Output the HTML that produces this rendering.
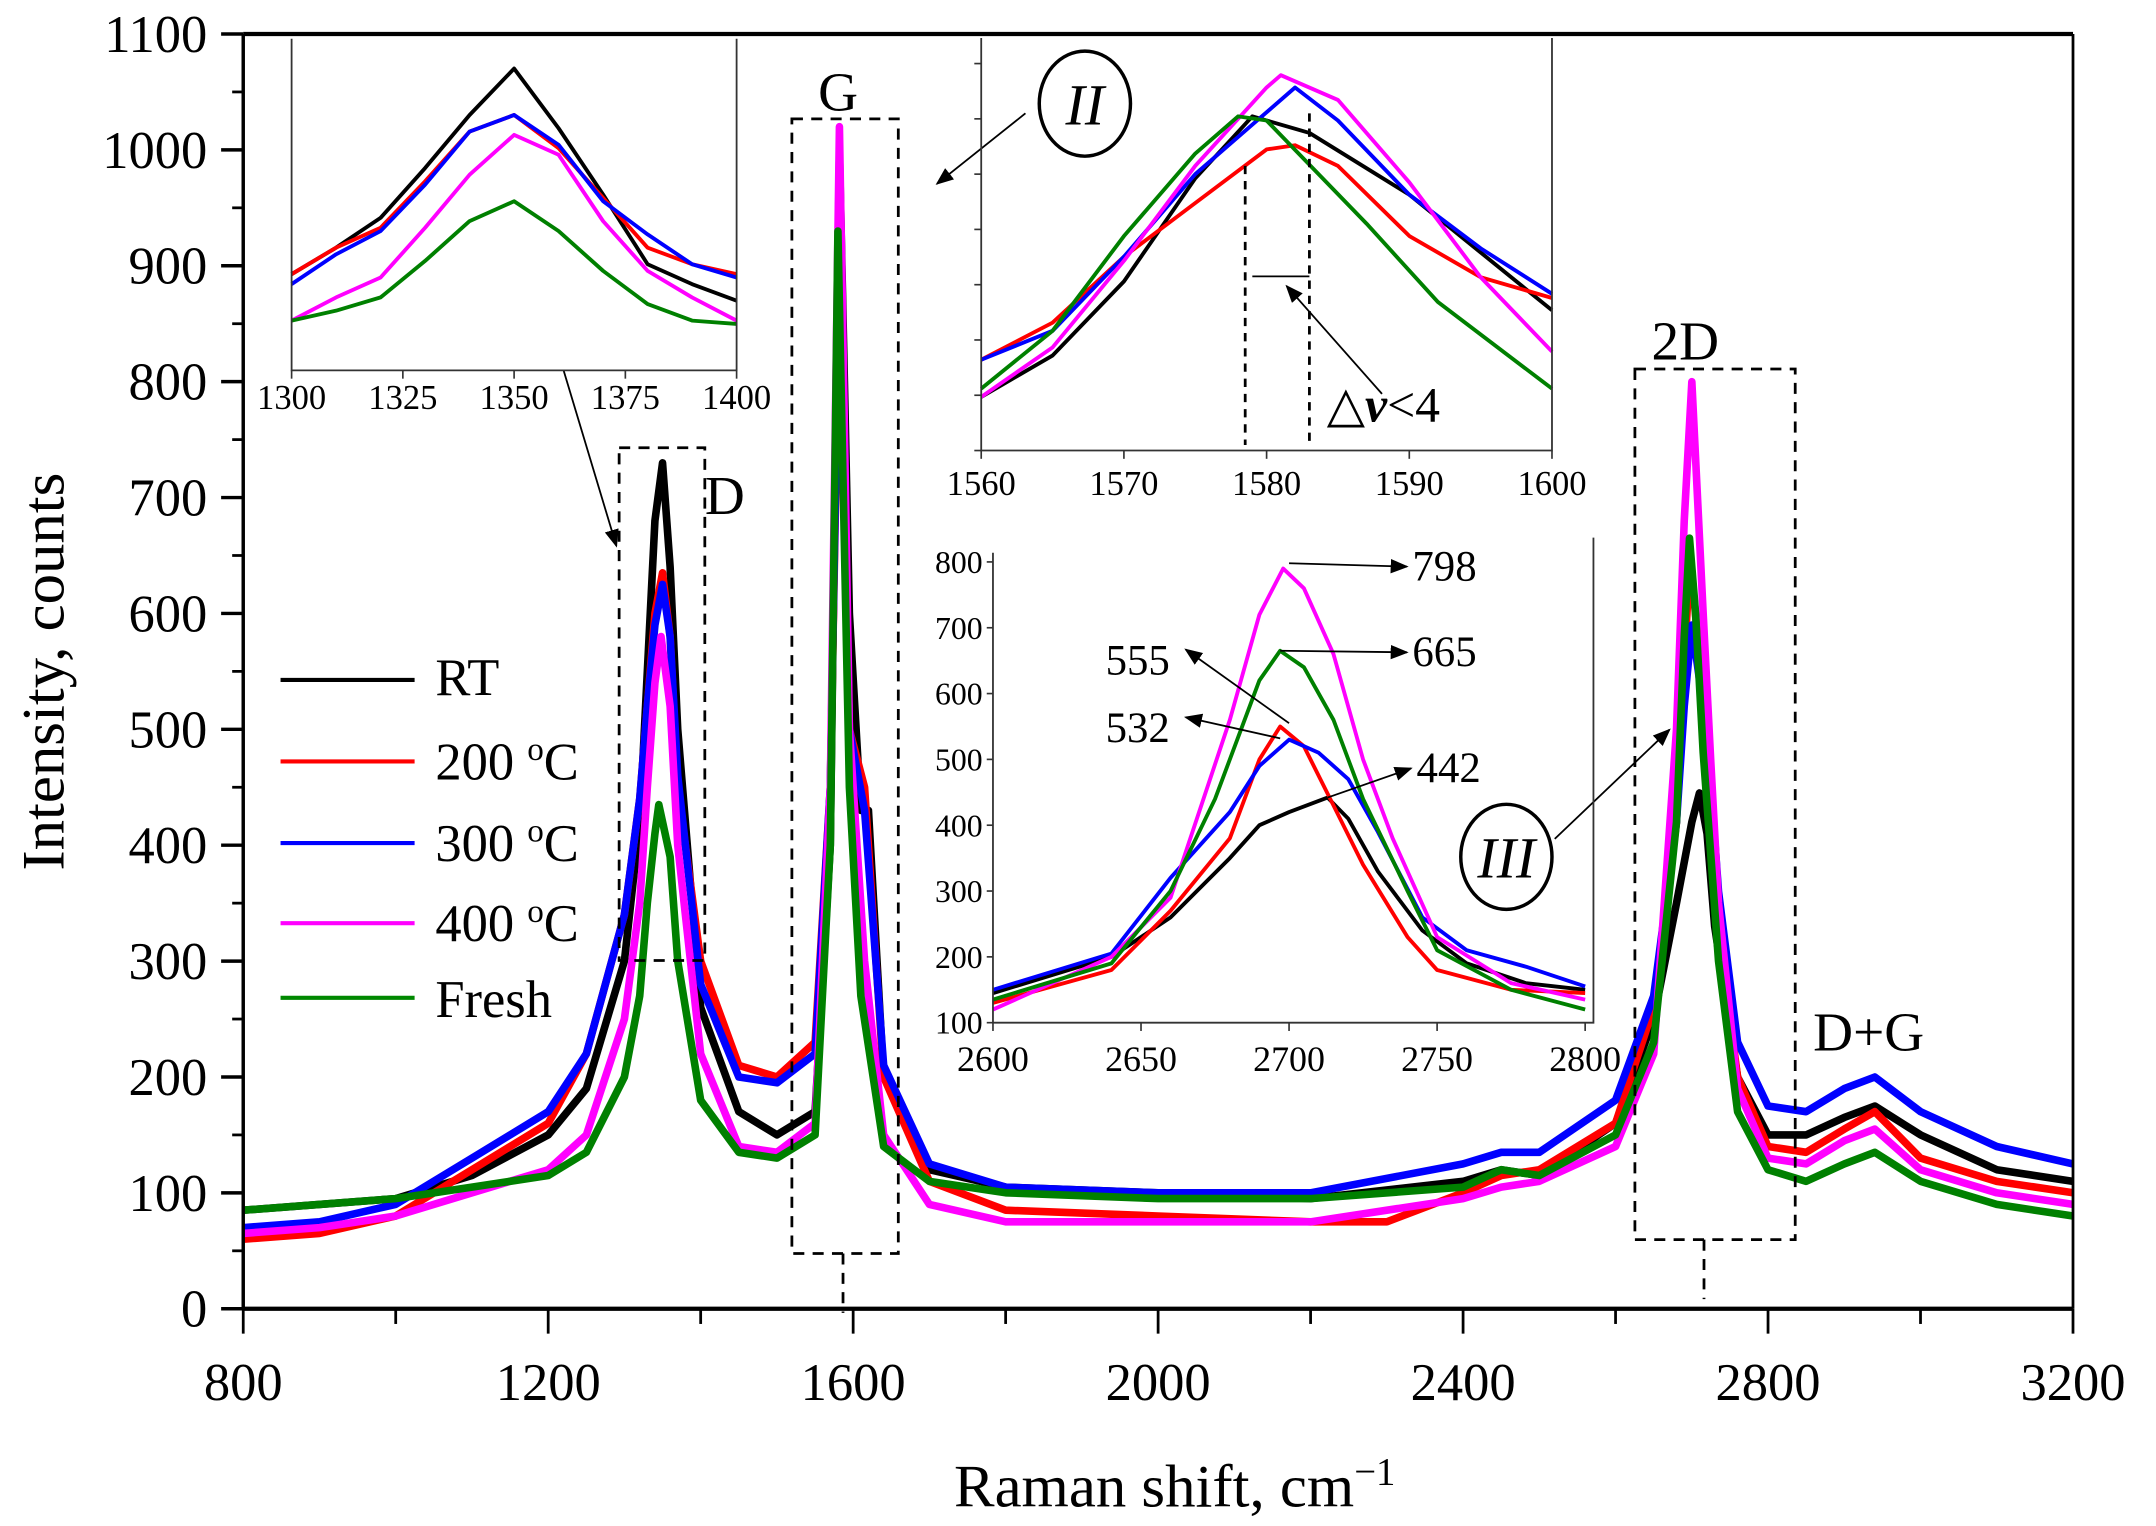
<!DOCTYPE html>
<html><head><meta charset="utf-8"><style>
html,body{margin:0;padding:0;background:#fff;}
svg{display:block;font-family:"Liberation Serif","DejaVu Serif",serif;}
</style></head><body>
<svg id="chart" width="2156" height="1526" viewBox="0 0 2156 1526" xmlns="http://www.w3.org/2000/svg">
<g id="root" transform="scale(1.382)"></g>
</svg>
<script>
// ---------- main chart data ----------
const seriesNames = ["RT","200 oC","300 oC","400 oC","Fresh"];
const seriesColors = ["#000000","#ff0000","#0000ff","#ff00ff","#008000"];
const mainX_RT = [800,900,1000,1100,1200,1250,1300,1320,1330,1340,1350,1360,1370,1400,1450,1500,1550,1570,1582,1595,1610,1620,1640,1700,1800,2000,2200,2400,2450,2500,2600,2650,2680,2700,2710,2720,2730,2760,2800,2850,2900,2940,3000,3100,3200];
const mainY_RT = [85,90,95,115,150,190,300,420,550,680,730,640,500,260,170,150,170,400,1000,600,430,430,200,120,105,100,95,110,120,115,160,250,350,420,445,410,330,200,150,150,165,175,150,120,110];
const mainX_200 = [800,900,1000,1100,1200,1250,1300,1320,1330,1340,1350,1360,1370,1400,1450,1500,1550,1570,1582,1595,1615,1640,1700,1800,2000,2200,2300,2400,2450,2500,2600,2650,2680,2690,2698,2710,2720,2730,2760,2800,2850,2900,2940,3000,3100,3200];
const mainY_200 = [60,65,80,120,160,220,340,440,520,600,635,580,450,300,210,200,230,450,880,500,450,200,110,85,80,75,75,100,115,120,160,260,420,560,650,560,450,350,200,140,135,155,170,130,110,100];
const mainX_300 = [800,900,1000,1100,1200,1250,1300,1320,1330,1340,1350,1360,1370,1400,1450,1500,1550,1570,1582,1595,1615,1640,1700,1800,2000,2200,2400,2450,2500,2600,2650,2680,2690,2700,2715,2725,2735,2760,2800,2850,2900,2940,3000,3100,3200];
const mainY_300 = [70,75,90,130,170,220,340,440,520,590,625,580,460,280,200,195,220,450,900,500,430,210,125,105,100,100,125,135,135,180,270,420,520,590,520,450,360,230,175,170,190,200,170,140,125];
const mainX_400 = [800,900,1000,1100,1200,1250,1300,1320,1330,1340,1348,1360,1370,1400,1450,1500,1550,1570,1582,1595,1615,1640,1700,1800,2000,2200,2400,2450,2500,2600,2650,2680,2690,2700,2715,2725,2735,2760,2800,2850,2900,2940,3000,3100,3200];
const mainY_400 = [65,70,80,100,120,150,250,350,450,540,580,520,400,220,140,135,160,450,1020,500,300,150,90,75,75,75,95,105,110,140,220,500,680,800,600,470,350,190,130,125,145,155,120,100,90];
const mainX_F = [800,900,1000,1100,1200,1250,1300,1320,1330,1340,1345,1360,1370,1400,1450,1500,1550,1570,1580,1595,1610,1640,1700,1800,2000,2200,2400,2450,2500,2600,2650,2680,2690,2697,2705,2715,2725,2735,2760,2800,2850,2900,2940,3000,3100,3200];
const mainY_F = [85,90,95,105,115,135,200,270,350,410,435,390,300,180,135,130,150,400,930,450,270,140,110,100,95,95,105,120,115,150,230,420,580,665,600,480,390,300,170,120,110,125,135,110,90,80];
const xTicks = [800,1200,1600,2000,2400,2800,3200];
const yTicks = [0,100,200,300,400,500,600,700,800,900,1000,1100];

// ---------- inset I (D band) ----------
const insI_X = [1300,1310,1320,1330,1340,1350,1360,1370,1380,1390,1400];
const insI_RT = [29,37,46,61,77,91,73,53,32,26,21];
const insI_200 = [29,37,43,57,72,77,67,52,37,32,29];
const insI_300 = [26,35,42,56,72,77,68,51,41,32,28];
const insI_400 = [15,22,28,43,59,71,65,45,30,22,15];
const insI_F = [15,18,22,33,45,51,42,30,20,15,14];
const insI_ticks = [1300,1325,1350,1375,1400];

// ---------- inset II (G band) ----------
const insII_X_M = [1560,1565,1570,1575,1580,1581,1585,1590,1595,1600];
const insII_M = [13,25,46,69,88,91,85,65,42,24];
const insII_X_B = [1560,1565,1570,1575,1582,1585,1590,1595,1600];
const insII_B = [22,29,47,67,88,80,62,49,38];
const insII_X_K = [1560,1565,1570,1575,1579,1583,1590,1595,1600];
const insII_K = [13,23,41,66,81,77,62,48,34];
const insII_X_G = [1560,1565,1570,1575,1578,1580,1587,1592,1600];
const insII_G = [15,29,52,72,81,80,55,36,15];
const insII_X_R = [1560,1565,1570,1575,1580,1582,1585,1590,1595,1600];
const insII_R = [22,31,47,60,73,74,69,52,42,37];
const insII_ticks = [1560,1570,1580,1590,1600];

// ---------- inset III (2D band) ----------
const insIII_X_M = [2600,2640,2660,2680,2690,2698,2705,2715,2725,2735,2750,2775,2800];
const insIII_M = [120,200,290,560,720,790,760,660,500,380,230,160,135];
const insIII_X_G = [2600,2640,2660,2675,2690,2697,2705,2715,2725,2740,2750,2775,2800];
const insIII_G = [135,190,300,440,620,665,640,560,440,300,210,150,120];
const insIII_X_R = [2600,2640,2660,2680,2690,2697,2705,2715,2725,2740,2750,2775,2800];
const insIII_R = [130,180,270,380,500,550,520,430,340,230,180,150,145];
const insIII_X_B = [2600,2640,2660,2680,2690,2700,2710,2720,2730,2745,2760,2780,2800];
const insIII_B = [150,205,320,420,490,530,510,470,390,260,210,185,155];
const insIII_X_K = [2600,2640,2660,2680,2690,2700,2713,2720,2730,2745,2760,2780,2800];
const insIII_K = [145,200,260,350,400,420,442,410,330,240,190,160,150];
const insIII_yTicks = [100,200,300,400,500,600,700,800];
const insIII_xTicks = [2600,2650,2700,2750,2800];

const NS="http://www.w3.org/2000/svg";
const root=document.getElementById('root');
function mk(tag,attrs,parent,text){const e=document.createElementNS(NS,tag);for(const k in attrs)e.setAttribute(k,attrs[k]);if(text!==undefined)e.textContent=text;(parent||root).appendChild(e);return e;}
function lin(d0,d1,r0,r1){return v=>r0+(v-d0)*(r1-r0)/(d1-d0);}

const X=lin(800,3200,176,1500), Y=lin(0,1100,947,24.6);
function drawLine(xs,ys,sx,sy,color,w,name,parent){
  const p=mk('polyline',{points:xs.map((x,i)=>sx(x).toFixed(1)+','+sy(ys[i]).toFixed(1)).join(' '),fill:'none',stroke:color,'stroke-width':w,'stroke-linejoin':'round'},parent);
  
  
  return p;
}
const mainXs=[mainX_RT,mainX_200,mainX_300,mainX_400,mainX_F];
const mainYs=[mainY_RT,mainY_200,mainY_300,mainY_400,mainY_F];
const keys=['rt','200c','300c','400c','fresh'];
for(let i=0;i<5;i++) drawLine(mainXs[i],mainYs[i],X,Y,seriesColors[i],5.5,'main-series-'+keys[i]);

mk('line',{x1:176,y1:24.6,x2:1500,y2:24.6,stroke:'#000','stroke-width':3});
mk('line',{x1:176,y1:947,x2:1500,y2:947,stroke:'#000','stroke-width':3});
mk('line',{x1:176,y1:24.6,x2:176,y2:947,stroke:'#000','stroke-width':2.5});
mk('line',{x1:1500,y1:24.6,x2:1500,y2:947,stroke:'#000','stroke-width':2});
yTicks.forEach(v=>{
  mk('line',{x1:160,y1:Y(v),x2:176,y2:Y(v),stroke:'#000','stroke-width':2.5});
  const t=mk('text',{x:150,y:Y(v)+13,'text-anchor':'end','font-size':38},root,String(v));
  
  if(v<1100) mk('line',{x1:168,y1:Y(v+50),x2:176,y2:Y(v+50),stroke:'#000','stroke-width':2});
});
xTicks.forEach(v=>{
  mk('line',{x1:X(v),y1:947,x2:X(v),y2:965,stroke:'#000','stroke-width':2});
  const t=mk('text',{x:X(v),y:1013,'text-anchor':'middle','font-size':38},root,String(v));
  
  if(v<3200) mk('line',{x1:X(v+200),y1:947,x2:X(v+200),y2:958,stroke:'#000','stroke-width':2});
});
</script>
<script>
const R=document.getElementById('root');
R.insertAdjacentHTML('beforeend',`
<text x="850" y="1090" text-anchor="middle" font-size="44">Raman shift, cm<tspan dy="-16" font-size="28">−1</tspan></text>
<text transform="translate(46,486) rotate(-90)" text-anchor="middle" font-size="44">Intensity, counts</text>
<g font-size="38">
<line x1="203" y1="492" x2="300" y2="492" stroke="#000" stroke-width="3"/><text x="315" y="503">RT</text>
<line x1="203" y1="551" x2="300" y2="551" stroke="#f00" stroke-width="3"/><text x="315" y="564">200 <tspan font-size="24" dy="-14">o</tspan><tspan dy="14">C</tspan></text>
<line x1="203" y1="610" x2="300" y2="610" stroke="#00f" stroke-width="3"/><text x="315" y="623">300 <tspan font-size="24" dy="-14">o</tspan><tspan dy="14">C</tspan></text>
<line x1="203" y1="668" x2="300" y2="668" stroke="#f0f" stroke-width="3"/><text x="315" y="681">400 <tspan font-size="24" dy="-14">o</tspan><tspan dy="14">C</tspan></text>
<line x1="203" y1="722" x2="300" y2="722" stroke="#080" stroke-width="3"/><text x="315" y="736">Fresh</text>
</g>
<g fill="none" stroke="#000" stroke-width="2" stroke-dasharray="8,6">
<rect x="448" y="324" width="62" height="371"/>
<rect x="573" y="86" width="77" height="821"/>
<rect x="1183" y="267" width="116" height="630"/>
<line x1="610" y1="907" x2="610" y2="950"/><line x1="1233" y1="897" x2="1233" y2="940"/>
</g>
<g font-size="40">
<text x="510" y="372">D</text>
<text x="592" y="80">G</text>
<text x="1195" y="260">2D</text>
<text x="1312" y="760">D+G</text>
</g>
<defs><marker id="ah" markerWidth="10" markerHeight="8" refX="9" refY="4" orient="auto"><path d="M0,0 L10,4 L0,8 z" fill="#000"/></marker></defs>
<g stroke="#000" stroke-width="1.3" fill="none">
<line x1="403" y1="252" x2="446" y2="395" marker-end="url(#ah)"/>
<line x1="742" y1="82" x2="678" y2="133" marker-end="url(#ah)"/>
<line x1="1125" y1="607" x2="1208" y2="528" marker-end="url(#ah)"/>
<line x1="1000" y1="285" x2="931" y2="207" marker-end="url(#ah)"/>
</g>
<g fill="none" stroke="#000" stroke-width="2.5">
<ellipse cx="362" cy="222" rx="32" ry="38"/>
<ellipse cx="785" cy="75" rx="33" ry="38"/>
<ellipse cx="1090" cy="620" rx="33" ry="38"/>
</g>
<g font-size="42" font-style="italic" text-anchor="middle">
<text x="362" y="237">I</text><text x="785" y="90">II</text><text x="1090" y="635">III</text>
</g>
`);
const NS2="http://www.w3.org/2000/svg";
function mk2(tag,a,p,t){const e=document.createElementNS(NS2,tag);for(const k in a)e.setAttribute(k,a[k]);if(t!==undefined)e.textContent=t;(p||R).appendChild(e);return e;}

const gI=mk2('g',{});

mk2('rect',{x:211,y:28,width:322,height:240,fill:'#fff'},gI);
const XI=lin(1300,1400,211,533), YI=lin(0,100,268,28);
const insIYs=[insI_RT,insI_200,insI_300,insI_400,insI_F];
for(let i=0;i<5;i++) drawLine(insI_X,insIYs[i],XI,YI,seriesColors[i],2.8,'inset1-series-'+keys[i],gI);
mk2('polyline',{points:'211,28 211,268 533,268 533,28',fill:'none',stroke:'#333','stroke-width':1.3},gI);
insI_ticks.forEach(v=>{mk2('line',{x1:XI(v),y1:268,x2:XI(v),y2:274,stroke:'#333','stroke-width':1.2},gI);mk2('text',{x:XI(v),y:296,'text-anchor':'middle','font-size':25},gI,String(v));});

const gII=mk2('g',{});

const XII=lin(1560,1600,710,1123), YII=lin(0,100,326,27.5);
const insIIX=[insII_X_K,insII_X_R,insII_X_B,insII_X_M,insII_X_G], insIIY=[insII_K,insII_R,insII_B,insII_M,insII_G];
for(let i=0;i<5;i++) drawLine(insIIX[i],insIIY[i],XII,YII,seriesColors[i],2.8,'inset2-series-'+keys[i],gII);
mk2('polyline',{points:'710,27.5 710,326 1123,326 1123,27.5',fill:'none',stroke:'#333','stroke-width':1.3},gII);
for(let k=0;k<8;k++){const yy=326-k*40;mk2('line',{x1:705,y1:yy,x2:710,y2:yy,stroke:'#333','stroke-width':1.2},gII);}
insII_ticks.forEach(v=>{mk2('line',{x1:XII(v),y1:326,x2:XII(v),y2:332,stroke:'#333','stroke-width':1.2},gII);mk2('text',{x:XII(v),y:358,'text-anchor':'middle','font-size':25},gII,String(v));});
mk2('line',{x1:XII(1578.5),y1:120,x2:XII(1578.5),y2:322,stroke:'#000','stroke-width':2,'stroke-dasharray':'6,5'},gII);
mk2('line',{x1:XII(1583),y1:82,x2:XII(1583),y2:322,stroke:'#000','stroke-width':2,'stroke-dasharray':'6,5'},gII);
mk2('line',{x1:XII(1579),y1:200,x2:XII(1583),y2:200,stroke:'#000','stroke-width':1.3},gII);
const dv=mk2('text',{x:960,y:305,'font-size':36},gII,'△');
mk2('tspan',{'font-style':'italic','font-weight':'bold'},dv,'ν');
mk2('tspan',{},dv,'<4');

const gIII=mk2('g',{});

const XIII=lin(2600,2800,718.5,1147), YIII=lin(100,800,740,406.6);
const insIIIX=[insIII_X_K,insIII_X_R,insIII_X_B,insIII_X_M,insIII_X_G], insIIIY=[insIII_K,insIII_R,insIII_B,insIII_M,insIII_G];
for(let i=0;i<5;i++) drawLine(insIIIX[i],insIIIY[i],XIII,YIII,seriesColors[i],2.8,'inset3-series-'+keys[i],gIII);
mk2('polyline',{points:'718.5,400 718.5,740 1153,740 1153,389',fill:'none',stroke:'#333','stroke-width':1.3},gIII);
insIII_yTicks.forEach(v=>{mk2('line',{x1:714,y1:YIII(v),x2:718.5,y2:YIII(v),stroke:'#333','stroke-width':1.2},gIII);mk2('text',{x:711,y:YIII(v)+8,'text-anchor':'end','font-size':23},gIII,String(v));});
insIII_xTicks.forEach(v=>{mk2('line',{x1:XIII(v),y1:740,x2:XIII(v),y2:746,stroke:'#333','stroke-width':1.2},gIII);mk2('text',{x:XIII(v),y:775,'text-anchor':'middle','font-size':26},gIII,String(v));});
const ann=[[2700,798,'798',1022,410,1],[2697,665,'665',1022,472,1],[2700,555,'555',800,478,0],[2697,532,'532',800,527,0],[2713,442,'442',1025,556,1]];
ann.forEach(a=>{
  const ex=a[5]?a[3]-4:a[3]+58, ey=a[4]-(a[5]?0:8);
  mk2('line',{x1:XIII(a[0]),y1:YIII(a[1]),x2:ex,y2:ey,stroke:'#000','stroke-width':1.3,'marker-end':'url(#ah)'},gIII);
  const t=mk2('text',{x:a[3],y:a[4]+10,'font-size':31},gIII,a[2]);
  
  
});
</script>
</body></html>
